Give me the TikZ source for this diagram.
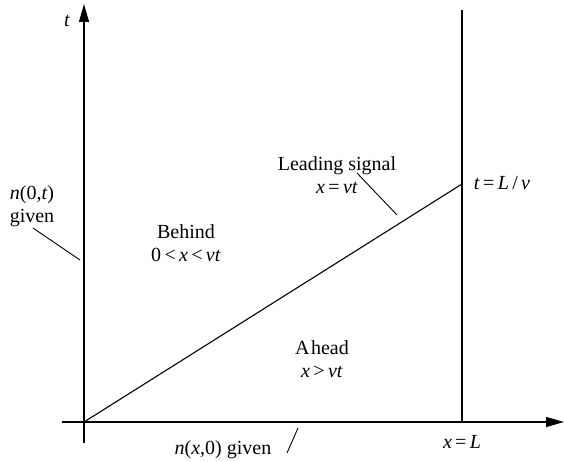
\documentclass[tikz,border=0pt]{standalone}
\usepackage{fontspec}
\setmainfont{Liberation Serif}
\usetikzlibrary{arrows.meta}
\begin{document}
\begin{tikzpicture}[x=1pt,y=-1pt,
  ax/.style={line width=1.3pt,-{Triangle[length=18pt,width=10pt]}},
  ln/.style={line width=1.1pt},
  lead/.style={line width=0.9pt},
  lbl/.style={font=\fontsize{20}{23}\selectfont,align=center,inner sep=0pt}]
\useasboundingbox (0,0) rectangle (564,462);
\coordinate (O) at (84,422);
\coordinate (xs) at (62,422);
\coordinate (xe) at (564,422);
\coordinate (ts) at (84,443);
\coordinate (te) at (84,4);
\coordinate (Lt) at (462,10);
\coordinate (Lb) at (462,422);
\coordinate (S) at (462,184);
\draw[ax] (xs) -- (xe);
\draw[ax] (ts) -- (te);
\draw[ln] (Lt) -- (Lb);
\draw[ln] (O) -- (S);
\node[lbl] (tl) at (67,21) {\textit{t}};
\node[lbl] (n0t) at (32,206) {\textit{n}(0,\textit{t})\\given};
\node[lbl] (beh) at (186,243) {Behind\\0\,<\,\textit{x}\,<\,\textit{vt}};
\node[lbl] (lead) at (337,175) {Leading signal\\\textit{x}\,=\,\textit{vt}};
\node[lbl] (tLv) at (502,183) {\textit{t}\,=\,\textit{L}\,/\,\textit{v}};
\node[lbl] (ahd) at (322,359) {A\kern1.5pt head\\\textit{x}\,>\,\textit{vt}};
\node[lbl] (nx0) at (223,450) {\textit{n}(\textit{x},0) given};
\node[lbl] (xL) at (462,442) {\textit{x}\,=\,\textit{L}};
\coordinate (a1) at (33,228); \coordinate (a2) at (80,260);
\coordinate (b1) at (357,173); \coordinate (b2) at (397,215);
\coordinate (c1) at (287,453); \coordinate (c2) at (298,428);
\draw[lead] (a1) -- (a2);
\draw[lead] (b1) -- (b2);
\draw[lead] (c1) -- (c2);
\end{tikzpicture}
\end{document}
